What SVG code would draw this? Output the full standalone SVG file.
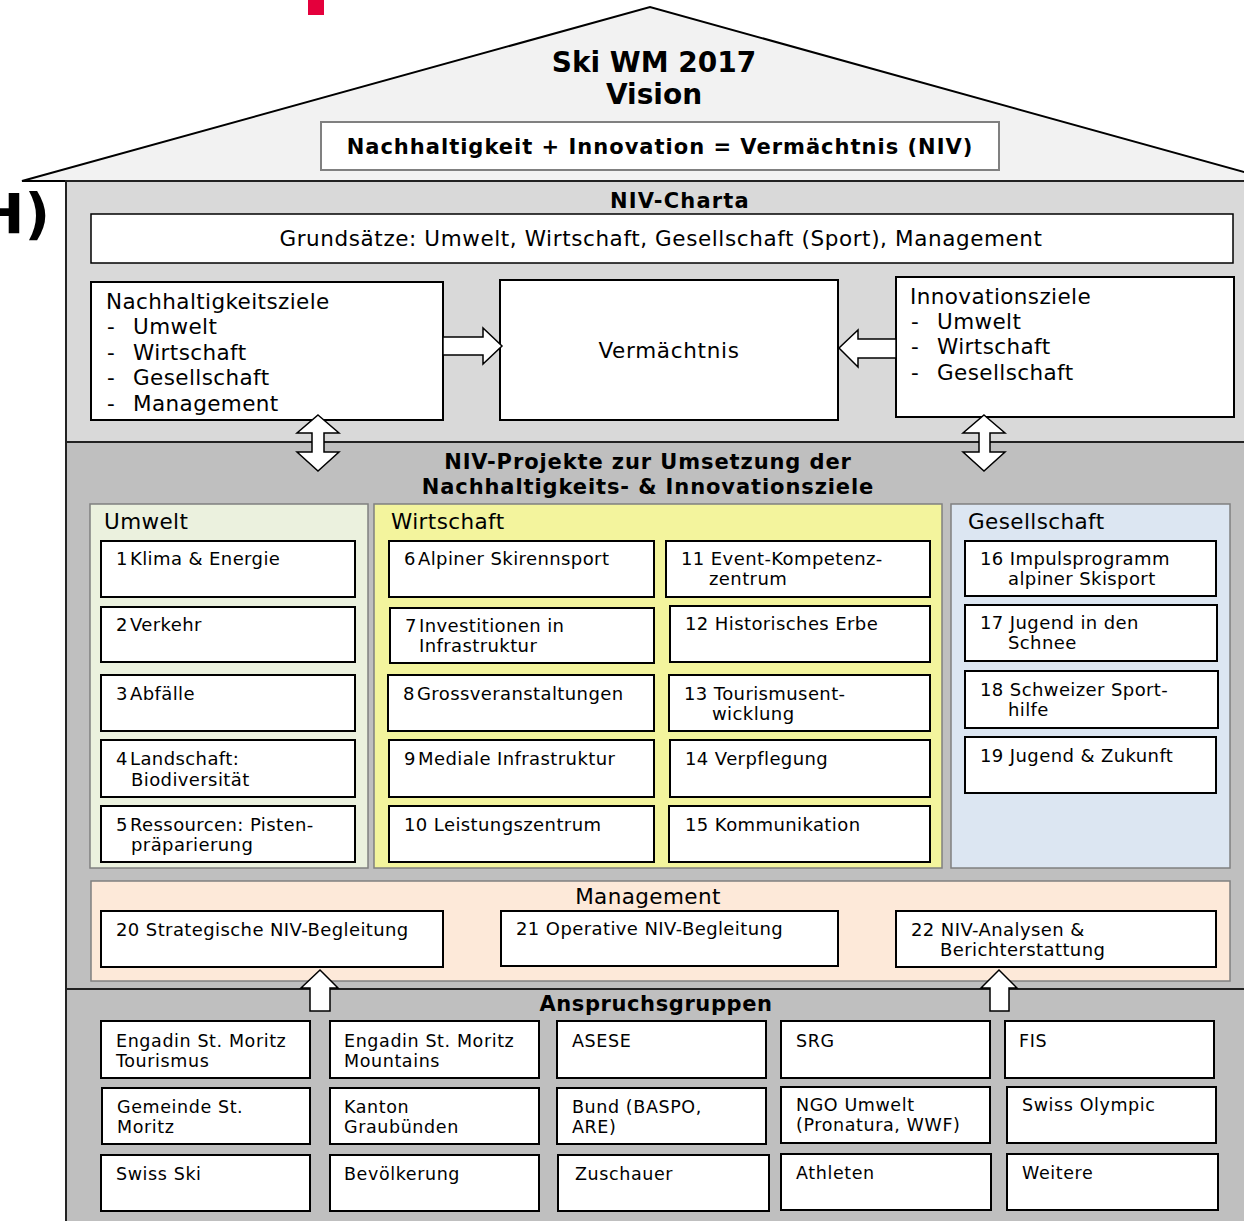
<svg xmlns="http://www.w3.org/2000/svg" width="1244" height="1221" viewBox="0 0 1244 1221">
<style>
text{font-family:"DejaVu Sans","Liberation Sans",sans-serif;fill:#000}
.b{font-weight:bold}
.t{font-size:18px;letter-spacing:0.4px}
.s{font-size:17.5px;letter-spacing:0.6px}
.h{font-size:21.5px;letter-spacing:0.4px}
.tb{font-size:21px;font-weight:bold;letter-spacing:0.9px}
.box{fill:#fff;stroke:#000;stroke-width:2}
.col{stroke:#808080;stroke-width:1.5}
.arr{fill:#fff;stroke:#000;stroke-width:1.5;stroke-linejoin:miter}
.area{stroke:#222;stroke-width:2}
</style>
<rect width="1244" height="1221" fill="#fff"/>
<rect x="308" y="0" width="16" height="15" fill="#e4003c"/>
<text class="b" x="50" y="233" font-size="56" text-anchor="end">H)</text>

<g id="roof">
<polygon points="22,181 650,7 1262,177 1262,181" fill="#f2f2f2" stroke="#000" stroke-width="2"/>
<text class="b" x="654" y="72" font-size="28" text-anchor="middle">Ski WM 2017</text>
<text class="b" x="654" y="104" font-size="28" text-anchor="middle">Vision</text>
</g>
<g id="vision">
<rect x="321" y="122" width="678" height="48" fill="#fff" stroke="#808080" stroke-width="2"/>
<text class="tb" x="660" y="154" text-anchor="middle" style="letter-spacing:1px">Nachhaltigkeit + Innovation = Vermächtnis (NIV)</text>
</g>

<g id="charta">
<rect class="area" x="66" y="181" width="1200" height="261" fill="#d9d9d9"/>
<text class="tb" x="680" y="208" text-anchor="middle" style="letter-spacing:1.2px">NIV-Charta</text>
</g>
<g id="grundsaetze">
<rect class="box" x="91" y="214" width="1142" height="49" style="stroke-width:1.5"/>
<text x="661" y="246" font-size="21.5" letter-spacing="0.6" text-anchor="middle">Grundsätze: Umwelt, Wirtschaft, Gesellschaft (Sport), Management</text>
</g>
<g id="nachhaltigkeitsziele">
<rect class="box" x="91" y="282" width="352" height="138"/>
<text class="h" x="106" y="309">Nachhaltigkeitsziele</text>
<text class="h" y="334"><tspan x="107">-</tspan><tspan x="133">Umwelt</tspan></text>
<text class="h" y="360"><tspan x="107">-</tspan><tspan x="133">Wirtschaft</tspan></text>
<text class="h" y="385"><tspan x="107">-</tspan><tspan x="133">Gesellschaft</tspan></text>
<text class="h" y="411"><tspan x="107">-</tspan><tspan x="133">Management</tspan></text>
</g>
<g id="vermaechtnis">
<rect class="box" x="500" y="280" width="338" height="140"/>
<text class="h" x="669" y="358" text-anchor="middle" style="letter-spacing:0.7px">Vermächtnis</text>
</g>
<g id="innovationsziele">
<rect class="box" x="896" y="277" width="338" height="140"/>
<text class="h" x="910" y="304">Innovationsziele</text>
<text class="h" y="329"><tspan x="911">-</tspan><tspan x="937">Umwelt</tspan></text>
<text class="h" y="354"><tspan x="911">-</tspan><tspan x="937">Wirtschaft</tspan></text>
<text class="h" y="380"><tspan x="911">-</tspan><tspan x="937">Gesellschaft</tspan></text>
</g>

<g id="projekte">
<rect class="area" x="66" y="442" width="1200" height="547" fill="#bfbfbf"/>
<text class="tb" x="648" y="469" text-anchor="middle">NIV-Projekte zur Umsetzung der</text>
<text class="tb" x="648" y="494" text-anchor="middle">Nachhaltigkeits- &amp; Innovationsziele</text>
</g>
<g id="umwelt">
<rect class="col" x="90" y="504" width="278" height="364" fill="#ebf1de"/>
<text class="h" x="104" y="529">Umwelt</text>
</g>
<g id="wirtschaft">
<rect class="col" x="374" y="504" width="568" height="364" fill="#f3f49d"/>
<text class="h" x="391" y="529">Wirtschaft</text>
</g>
<g id="gesellschaft">
<rect class="col" x="951" y="504" width="279" height="364" fill="#dce6f2"/>
<text class="h" x="968" y="529">Gesellschaft</text>
</g>

<g id="p1"><rect class="box" x="101" y="541" width="254" height="56"/><text class="t" y="565"><tspan x="116">1</tspan><tspan x="130">Klima &amp; Energie</tspan></text></g>
<g id="p2"><rect class="box" x="101" y="607" width="254" height="55"/><text class="t" y="631"><tspan x="116">2</tspan><tspan x="130">Verkehr</tspan></text></g>
<g id="p3"><rect class="box" x="101" y="675" width="254" height="56"/><text class="t" y="700"><tspan x="116">3</tspan><tspan x="130">Abfälle</tspan></text></g>
<g id="p4"><rect class="box" x="101" y="740" width="254" height="57"/><text class="t" y="765"><tspan x="116">4</tspan><tspan x="130">Landschaft:</tspan></text><text class="t" x="131" y="786">Biodiversität</text></g>
<g id="p5"><rect class="box" x="101" y="806" width="254" height="56"/><text class="t" y="831"><tspan x="116">5</tspan><tspan x="130">Ressourcen: Pisten-</tspan></text><text class="t" x="131" y="851">präparierung</text></g>

<g id="p6"><rect class="box" x="389" y="541" width="265" height="56"/><text class="t" y="565"><tspan x="404">6</tspan><tspan x="418">Alpiner Skirennsport</tspan></text></g>
<g id="p7"><rect class="box" x="390" y="608" width="264" height="55"/><text class="t" y="632"><tspan x="405">7</tspan><tspan x="419">Investitionen in</tspan></text><text class="t" x="419" y="652">Infrastruktur</text></g>
<g id="p8"><rect class="box" x="388" y="675" width="266" height="56"/><text class="t" y="700"><tspan x="403">8</tspan><tspan x="417">Grossveranstaltungen</tspan></text></g>
<g id="p9"><rect class="box" x="389" y="740" width="265" height="57"/><text class="t" y="765"><tspan x="404">9</tspan><tspan x="418">Mediale Infrastruktur</tspan></text></g>
<g id="p10"><rect class="box" x="389" y="806" width="265" height="56"/><text class="t" x="404" y="831">10 Leistungszentrum</text></g>
<g id="p11"><rect class="box" x="666" y="541" width="264" height="56"/><text class="t" x="681" y="565">11 Event-Kompetenz-</text><text class="t" x="709" y="585">zentrum</text></g>
<g id="p12"><rect class="box" x="670" y="606" width="260" height="56"/><text class="t" x="685" y="630">12 Historisches Erbe</text></g>
<g id="p13"><rect class="box" x="669" y="675" width="261" height="56"/><text class="t" x="684" y="700">13 Tourismusent-</text><text class="t" x="712" y="720">wicklung</text></g>
<g id="p14"><rect class="box" x="670" y="740" width="260" height="57"/><text class="t" x="685" y="765">14 Verpflegung</text></g>
<g id="p15"><rect class="box" x="669" y="806" width="261" height="56"/><text class="t" x="685" y="831">15 Kommunikation</text></g>

<g id="p16"><rect class="box" x="965" y="541" width="251" height="55"/><text class="t" x="980" y="565">16 Impulsprogramm</text><text class="t" x="1008" y="585">alpiner Skisport</text></g>
<g id="p17"><rect class="box" x="965" y="605" width="252" height="56"/><text class="t" x="980" y="629">17 Jugend in den</text><text class="t" x="1008" y="649">Schnee</text></g>
<g id="p18"><rect class="box" x="965" y="671" width="253" height="57"/><text class="t" x="980" y="696">18 Schweizer Sport-</text><text class="t" x="1008" y="716">hilfe</text></g>
<g id="p19"><rect class="box" x="965" y="737" width="251" height="56"/><text class="t" x="980" y="762">19 Jugend &amp; Zukunft</text></g>

<g id="management">
<rect class="col" x="91" y="881" width="1139" height="100" fill="#fde9d9"/>
<text class="h" x="648" y="904" text-anchor="middle">Management</text>
</g>
<g id="p20"><rect class="box" x="101" y="911" width="342" height="56"/><text class="t" x="116" y="936">20 Strategische NIV-Begleitung</text></g>
<g id="p21"><rect class="box" x="501" y="911" width="337" height="55"/><text class="t" x="516" y="935">21 Operative NIV-Begleitung</text></g>
<g id="p22"><rect class="box" x="896" y="911" width="320" height="56"/><text class="t" x="911" y="936">22 NIV-Analysen &amp;</text><text class="t" x="940" y="956">Berichterstattung</text></g>

<g id="anspruchsgruppen">
<rect class="area" x="66" y="989" width="1200" height="245" fill="#bfbfbf"/>
<text class="tb" x="656" y="1011" text-anchor="middle" style="letter-spacing:0.6px">Anspruchsgruppen</text>
</g>
<g id="a1"><rect class="box" x="101" y="1021" width="209" height="57"/><text class="s" x="116" y="1047">Engadin St. Moritz</text><text class="s" x="116" y="1067">Tourismus</text></g>
<g id="a2"><rect class="box" x="330" y="1021" width="209" height="57"/><text class="s" x="344" y="1047">Engadin St. Moritz</text><text class="s" x="344" y="1067">Mountains</text></g>
<g id="a3"><rect class="box" x="557" y="1021" width="209" height="57"/><text class="s" x="572" y="1047">ASESE</text></g>
<g id="a4"><rect class="box" x="781" y="1021" width="209" height="57"/><text class="s" x="796" y="1047">SRG</text></g>
<g id="a5"><rect class="box" x="1005" y="1021" width="209" height="57"/><text class="s" x="1019" y="1047">FIS</text></g>
<g id="a6"><rect class="box" x="102" y="1088" width="208" height="56"/><text class="s" x="117" y="1113">Gemeinde St.</text><text class="s" x="117" y="1133">Moritz</text></g>
<g id="a7"><rect class="box" x="330" y="1088" width="209" height="56"/><text class="s" x="344" y="1113">Kanton</text><text class="s" x="344" y="1133">Graubünden</text></g>
<g id="a8"><rect class="box" x="557" y="1088" width="209" height="56"/><text class="s" x="572" y="1113">Bund (BASPO,</text><text class="s" x="572" y="1133">ARE)</text></g>
<g id="a9"><rect class="box" x="781" y="1087" width="209" height="56"/><text class="s" x="796" y="1111">NGO Umwelt</text><text class="s" x="796" y="1131">(Pronatura, WWF)</text></g>
<g id="a10"><rect class="box" x="1007" y="1087" width="209" height="56"/><text class="s" x="1022" y="1111">Swiss Olympic</text></g>
<g id="a11"><rect class="box" x="101" y="1155" width="209" height="56"/><text class="s" x="116" y="1180">Swiss Ski</text></g>
<g id="a12"><rect class="box" x="330" y="1155" width="209" height="56"/><text class="s" x="344" y="1180">Bevölkerung</text></g>
<g id="a13"><rect class="box" x="558" y="1155" width="211" height="56"/><text class="s" x="575" y="1180">Zuschauer</text></g>
<g id="a14"><rect class="box" x="781" y="1154" width="210" height="56"/><text class="s" x="796" y="1179">Athleten</text></g>
<g id="a15"><rect class="box" x="1007" y="1154" width="211" height="56"/><text class="s" x="1022" y="1179">Weitere</text></g>

<g id="connectors">
<polygon class="arr" points="443,337 483,337 483,328 502,346 483,364 483,355 443,355"/>
<polygon class="arr" points="896,339 858,339 858,330 839,348 858,367 858,358 896,358"/>
<polygon class="arr" points="318,415 339,433 324,433 324,452 339,452 318,471 297,452 312,452 312,433 297,433"/>
<polygon class="arr" points="984,415 1005,433 990,433 990,452 1005,452 984,471 963,452 979,452 979,433 963,433"/>
<polygon class="arr" points="320,970 338,988 330,988 330,1011 310,1011 310,988 301,988"/>
<polygon class="arr" points="999,970 1017,988 1009,988 1009,1011 990,1011 990,988 981,988"/>
</g>
</svg>
